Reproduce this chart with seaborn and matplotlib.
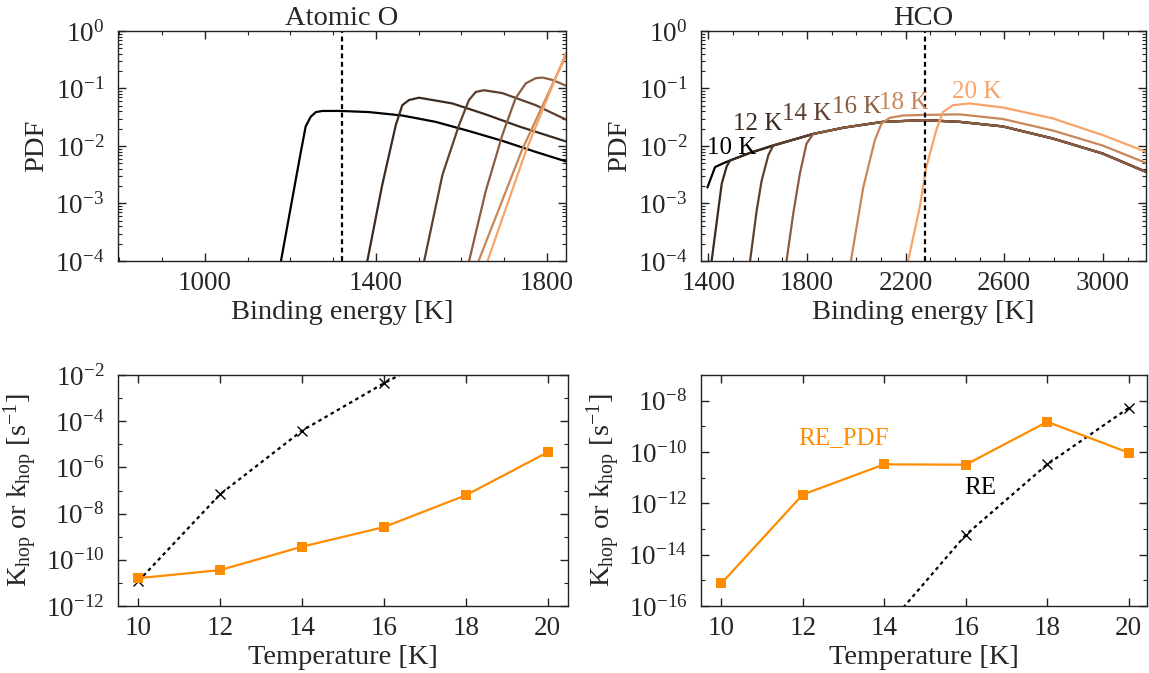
import numpy as np
import pandas as pd
import matplotlib
matplotlib.use("Agg")
import matplotlib.pyplot as plt
import seaborn as sns
from matplotlib.ticker import FixedLocator, MultipleLocator, LogLocator, NullFormatter, LogFormatterSciNotation

# ---------------- data ----------------
temps = [10, 12, 14, 16, 18, 20]
temp_labels = ["10 K", "12 K", "14 K", "16 K", "18 K", "20 K"]
curve_colors = ["#000000", "#3b2a1f", "#5e4030", "#8b5d40", "#c98658", "#f8a468"]

# Atomic O: binding energy [K] and PDF for each temperature
o_e10 = [1172, 1178, 1224, 1236, 1248, 1260, 1275, 1318, 1384, 1462, 1540, 1618, 1696, 1774, 1845]
o_p10 = [5.6e-5, 9.8e-5, 7.4e-3, 2.19e-2, 3.24e-2, 3.89e-2, 4.07e-2, 4.07e-2, 3.89e-2, 3.39e-2, 2.63e-2, 1.82e-2, 1.23e-2, 7.9e-3, 5.4e-3]
o_e12 = [1372, 1380, 1415, 1447, 1462, 1478, 1501, 1579, 1657, 1735, 1845]
o_p12 = [5.0e-5, 9.8e-5, 2.09e-3, 2.34e-2, 5.13e-2, 6.31e-2, 6.92e-2, 5.50e-2, 3.55e-2, 2.19e-2, 1.20e-2]
o_e14 = [1506, 1513, 1556, 1595, 1618, 1634, 1653, 1696, 1774, 1845]
o_p14 = [5.0e-5, 9.8e-5, 3.16e-3, 2.34e-2, 6.31e-2, 8.71e-2, 9.33e-2, 8.32e-2, 5.13e-2, 2.88e-2]
o_e16 = [1610, 1618, 1657, 1696, 1727, 1751, 1774, 1790, 1813, 1845]
o_p16 = [5.0e-5, 9.8e-5, 1.62e-3, 1.55e-2, 6.76e-2, 0.123, 0.151, 0.155, 0.141, 0.112]
o_e18 = [1625, 1640, 1742, 1845]
o_p18 = [5.0e-5, 9.8e-5, 8.5e-3, 0.38]
o_e20 = [1648, 1661, 1752, 1845]
o_p20 = [5.0e-5, 9.8e-5, 8.5e-3, 0.42]
o_dashed = 1320

# HCO: common envelope and the rising part of each curve
hco_env_e = [1488, 1569, 1663, 1825, 1950, 2108, 2277, 2419, 2594, 2797, 2999, 3200]
hco_env_p = [5.6e-3, 7.6e-3, 1.02e-2, 1.62e-2, 2.09e-2, 2.63e-2, 2.82e-2, 2.63e-2, 2.19e-2, 1.35e-2, 7.4e-3, 3.2e-3]
hco_e10 = [1396, 1427, 1460]
hco_p10 = [1.9e-3, 4.3e-3, 5.0e-3]
hco_e12 = [1405, 1413, 1454, 1474]
hco_p12 = [5.0e-5, 1.0e-4, 2.2e-3, 4.4e-3]
hco_e14 = [1560, 1569, 1596, 1616, 1643]
hco_p14 = [5.0e-5, 1.0e-4, 7.6e-4, 2.5e-3, 6.9e-3]
hco_e16 = [1708, 1717, 1744, 1771, 1798]
hco_p16 = [5.0e-5, 1.0e-4, 6.6e-4, 3.3e-3, 1.1e-2]
hco_e18 = [1965, 1978, 2028, 2075, 2102, 2135, 2189, 2277, 2419, 2594, 2797, 2999, 3200]
hco_p18 = [5e-5, 1e-4, 1.9e-3, 1.26e-2, 2.45e-2, 3.09e-2, 3.39e-2, 3.47e-2, 3.55e-2, 2.95e-2, 1.86e-2, 1.02e-2, 4.6e-3]
hco_e20 = [2200, 2210, 2257, 2284, 2324, 2351, 2392, 2459, 2594, 2797, 2999, 3200]
hco_p20 = [5e-5, 1e-4, 8.5e-4, 4.3e-3, 1.86e-2, 3.89e-2, 5.13e-2, 5.50e-2, 4.68e-2, 3.02e-2, 1.55e-2, 7.2e-3]
hco_dashed = 2280

# hopping rates [s^-1]
o_re_pdf = [1.6e-11, 3.6e-11, 3.7e-10, 2.6e-9, 6.2e-8, 4.5e-6]
o_re = [1.2e-11, 7.0e-8, 3.9e-5, 4.4e-3, 3.0e-1, 1.5e1]
hco_re_pdf = [7.6e-16, 2.2e-12, 3.3e-11, 3.2e-11, 1.5e-9, 9.4e-11]
hco_re = [1e-25, 1e-21, 1.2e-17, 5.9e-14, 3.3e-11, 5.2e-9]

# ---------------- tables ----------------
def long_table(pairs):
    rows = []
    for lab, (e, p) in zip(temp_labels, pairs):
        rows.append(pd.DataFrame({"E": e, "PDF": p, "T": lab}))
    return pd.concat(rows, ignore_index=True)

o_df = long_table([(o_e10, o_p10), (o_e12, o_p12), (o_e14, o_p14),
                   (o_e16, o_p16), (o_e18, o_p18), (o_e20, o_p20)])
hco_df = long_table([
    (hco_e10 + hco_env_e, hco_p10 + hco_env_p),
    (hco_e12 + hco_env_e, hco_p12 + hco_env_p),
    (hco_e14 + hco_env_e[2:], hco_p14 + hco_env_p[2:]),
    (hco_e16 + hco_env_e[3:], hco_p16 + hco_env_p[3:]),
    (hco_e18, hco_p18),
    (hco_e20, hco_p20),
])
o_rate = pd.DataFrame({"T": temps, "RE_PDF": o_re_pdf, "RE": o_re})
hco_rate = pd.DataFrame({"T": temps, "RE_PDF": hco_re_pdf, "RE": hco_re})

# ---------------- style ----------------
sns.set_theme(style="ticks")
plt.rcParams["font.family"] = ["Liberation Serif", "DejaVu Serif"]
plt.rcParams["mathtext.fontset"] = "custom"
plt.rcParams["mathtext.rm"] = "Liberation Serif"
plt.rcParams["mathtext.it"] = "Liberation Serif:italic"
plt.rcParams["mathtext.bf"] = "Liberation Serif:bold"
plt.rcParams["axes.edgecolor"] = "#222222"
plt.rcParams["axes.linewidth"] = 1.0

TICK = 19.5
LAB = 20.5

W, H = 1149, 673
fig = plt.figure(figsize=(W / 100, H / 100), dpi=100)

def px_axes(x0, x1, y0, y1):
    return fig.add_axes([x0 / W, (H - y1) / H, (x1 - x0) / W, (y1 - y0) / H])

ax1 = px_axes(118, 566, 31, 261)
ax2 = px_axes(701, 1146, 31, 261)
ax3 = px_axes(118, 568, 375, 606)
ax4 = px_axes(701, 1147, 375, 606)

pal = dict(zip(temp_labels, curve_colors))

for ax, df, xl, dash in [(ax1, o_df, (797, 1845), o_dashed), (ax2, hco_df, (1370, 3175), hco_dashed)]:
    sns.lineplot(data=df, x="E", y="PDF", hue="T", palette=pal, sort=False,
                 estimator=None, lw=1.6, legend=False, ax=ax)
    ax.axvline(dash, color="black", lw=1.6, ls=(0, (2.2, 1.6)))
    ax.set_yscale("log")
    ax.set_ylim(1e-4, 1)
    ax.set_xlim(*xl)
    ax.set_ylabel("PDF", fontsize=LAB, labelpad=4)
    ax.set_xlabel("Binding energy [K]", fontsize=LAB, labelpad=3)
    ax.xaxis.set_minor_locator(MultipleLocator(100))
    ax.yaxis.set_minor_formatter(NullFormatter())

ax1.xaxis.set_major_locator(FixedLocator([1000, 1400, 1800]))
ax2.xaxis.set_major_locator(FixedLocator([1400, 1800, 2200, 2600, 3000]))
ax1.set_title("Atomic O", fontsize=LAB, pad=3)
ax2.set_title("HCO", fontsize=LAB, pad=3)

label_pos = [(1495, 9.3e-3), (1600, 2.4e-2), (1798, 3.6e-2), (2000, 4.7e-2), (2194, 5.6e-2), (2490, 8.6e-2)]
for (xx, yy), lab, c in zip(label_pos, temp_labels, curve_colors):
    ax2.text(xx, yy, lab, color=c, fontsize=18, ha="center", va="center")

for ax, df, yl in [(ax3, o_rate, (1e-12, 1e-2)), (ax4, hco_rate, (1e-16, 1e-7))]:
    sns.lineplot(data=df, x="T", y="RE", color="black", lw=1.6, ls=(0, (1.6, 1.6)),
                 marker="x", markersize=7, markeredgewidth=1.0, markeredgecolor="black",
                 ax=ax, legend=False)
    sns.lineplot(data=df, x="T", y="RE_PDF", color="#ff8c00", lw=1.6, marker="s",
                 markersize=7, markeredgewidth=0, ax=ax, legend=False)
    ax.set_yscale("log")
    ax.set_ylim(*yl)
    ax.set_xlim(9.5, 20.5)
    ax.xaxis.set_major_locator(FixedLocator(temps))
    ax.yaxis.set_major_locator(LogLocator(base=100, numticks=20))
    ax.yaxis.set_major_formatter(LogFormatterSciNotation(base=10))
    ax.yaxis.set_minor_locator(LogLocator(base=10, subs=(1.0,), numticks=30))
    ax.yaxis.set_minor_formatter(NullFormatter())
    ax.set_xlabel("Temperature [K]", fontsize=LAB, labelpad=3)
    ax.set_ylabel(r"K$_{\rm hop}$ or k$_{\rm hop}$ [s$^{-1}$]", fontsize=LAB, labelpad=4)

ax4.set_xlim(9.5, 20.45)
ax4.text(13.0, 10 ** -9.44, "RE_PDF", color="#ff8c00", fontsize=18, ha="center", va="center")
ax4.text(16.36, 10 ** -11.40, "RE", color="black", fontsize=18, ha="center", va="center")

for ax in (ax1, ax2, ax3, ax4):
    ax.tick_params(which="both", direction="in", top=True, right=True, labelsize=TICK,
                   color="#222222")
    ax.tick_params(axis="y", which="both", pad=10)
    ax.tick_params(axis="x", which="both", pad=7)
    ax.tick_params(which="major", length=6, width=1)
    ax.tick_params(which="minor", length=3, width=0.8)
    for s in ax.spines.values():
        s.set_visible(True)

fig.savefig("out.png", dpi=100)
